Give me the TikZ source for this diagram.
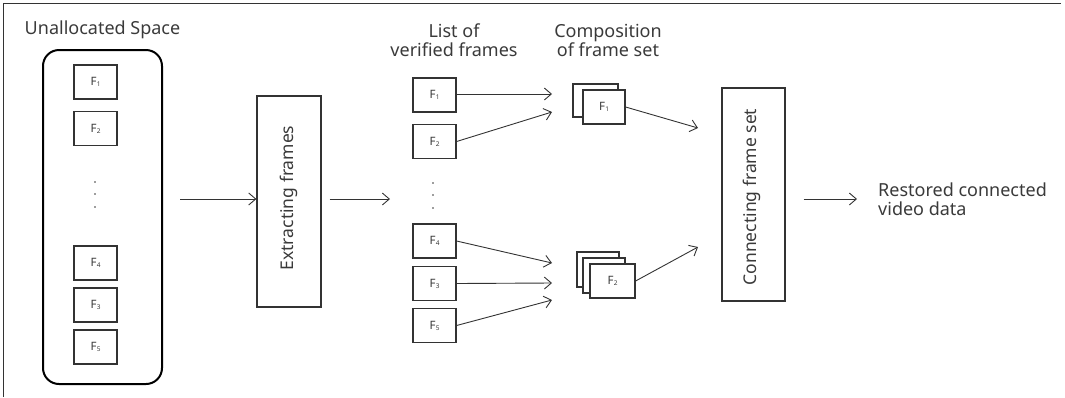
\documentclass[tikz,border=0pt]{standalone}
\usepackage{fontspec}
\setmainfont{Noto Sans}
\usetikzlibrary{arrows.meta}
\definecolor{ink}{HTML}{333333}
\definecolor{txt}{HTML}{3A3A3A}
\tikzset{
  fbox/.style={draw=ink, line width=1.2pt, fill=white, minimum width=43pt, minimum height=34pt, inner sep=0pt, font=\fontsize{11.5}{13}\selectfont, text=txt},
  stepbox/.style={draw=ink, line width=1.2pt, fill=white, inner sep=0pt},
  conn/.style={draw=ink, line width=0.9pt, -{Straight Barb[length=7pt,width=12pt,line width=0.9pt]}},
  lbl/.style={font=\fontsize{18}{19}\selectfont, text=txt, inner sep=0pt, align=center},
  vlbl/.style={text=txt, rotate=90, inner sep=0pt, font=\fontsize{17.5}{19}\selectfont},
  vdots/.style={fill=txt, circle, inner sep=0pt, minimum size=1.8pt}
}
\newcommand{\Fr}[1]{F\kern0.3pt{\fontsize{6.5}{6.5}\selectfont\raisebox{-1pt}{#1}}}
\begin{document}
\begin{tikzpicture}[x=1pt,y=-1pt]
\useasboundingbox (0,0) rectangle (1065,397);
% outer frame lines
\coordinate (fbl) at (3,397);
\coordinate (ftl) at (3,3);
\coordinate (ftr) at (1061,3);
\draw[ink, line width=1pt] (fbl) -- (ftl) -- (ftr);

% Unallocated space
\node[lbl] (ualbl) at (102.5,30) {Unallocated Space};
\node[draw=black, line width=2pt, rounded corners=16pt, minimum width=119pt, minimum height=334pt] (space) at (102.5,217) {};
\node[fbox] (a1) at (95.5,82) {\Fr{1}};
\node[fbox] (a2) at (95.5,128.5) {\Fr{2}};
\node[vdots] (ad1) at (95,182) {};
\node[vdots] (ad2) at (95,194) {};
\node[vdots] (ad3) at (95,207) {};
\node[fbox] (a4) at (95.5,263) {\Fr{4}};
\node[fbox] (a3) at (95.5,305) {\Fr{3}};
\node[fbox] (a5) at (95.5,347) {\Fr{5}};

% Extracting frames
\coordinate (in1) at (180,199);
\node[stepbox, minimum width=64pt, minimum height=211pt] (extract) at (289,201.5) {};
\node[vlbl] (extractlbl) at (289,198) {Extracting frames};
\draw[conn] (in1) -- (extract.west |- in1);
\coordinate (out1) at (390,199);
\draw[conn] (extract.east |- out1) ++(8,0) -- (out1);

% List of verified frames
\node[lbl] (listlbl) at (454,40) {List of\\verified frames};
\node[fbox] (b1) at (434.5,95) {\Fr{1}};
\node[fbox] (b2) at (434.5,141.5) {\Fr{2}};
\node[vdots] (bd1) at (433,183) {};
\node[vdots] (bd2) at (433,195) {};
\node[vdots] (bd3) at (433,208) {};
\node[fbox] (b4) at (434.5,241) {\Fr{4}};
\node[fbox] (b3) at (434.5,283.5) {\Fr{3}};
\node[fbox] (b5) at (434.5,325.5) {\Fr{5}};

% Composition of frame set
\node[lbl] (complbl) at (608,40) {Composition\\of frame set};
\node[fbox, minimum width=45pt, minimum height=33pt] (c1b) at (595.5,100.5) {};
\node[fbox, minimum width=42pt, minimum height=34pt] (c1) at (604,107) {\Fr{1}};
\node[fbox, minimum width=42pt, minimum height=35pt] (c2c) at (598,269.5) {};
\node[fbox, minimum width=42pt, minimum height=35pt] (c2b) at (604,275.5) {};
\node[fbox, minimum width=45pt, minimum height=34pt] (c2) at (612.5,281) {\Fr{2}};

\coordinate (e1) at (552,94);
\coordinate (e2) at (552,112);
\coordinate (e4) at (552,263);
\coordinate (e3) at (552,283);
\coordinate (e5) at (552,300);
\draw[conn] (b1.east |- e1) -- (e1);
\draw[conn] (b2.east) -- (e2);
\draw[conn] (b4.east) -- (e4);
\draw[conn] (b3.east) -- (e3);
\draw[conn] (b5.east) -- (e5);

% Connecting frame set
\node[stepbox, minimum width=63pt, minimum height=213pt] (connect) at (753.5,194.5) {};
\node[vlbl] (connectlbl) at (752,197) {Connecting frame set};
\coordinate (g1) at (698,128);
\coordinate (g2) at (698,247);
\draw[conn] (c1.east) -- (g1);
\draw[conn] (c2.east) -- (g2);

% Output
\coordinate (o1) at (857,199);
\draw[conn] (connect.east |- o1) ++(18,0) -- (o1);
\node[lbl, align=left, anchor=west] (restored) at (878,199) {Restored connected\\video data};
\end{tikzpicture}
\end{document}
